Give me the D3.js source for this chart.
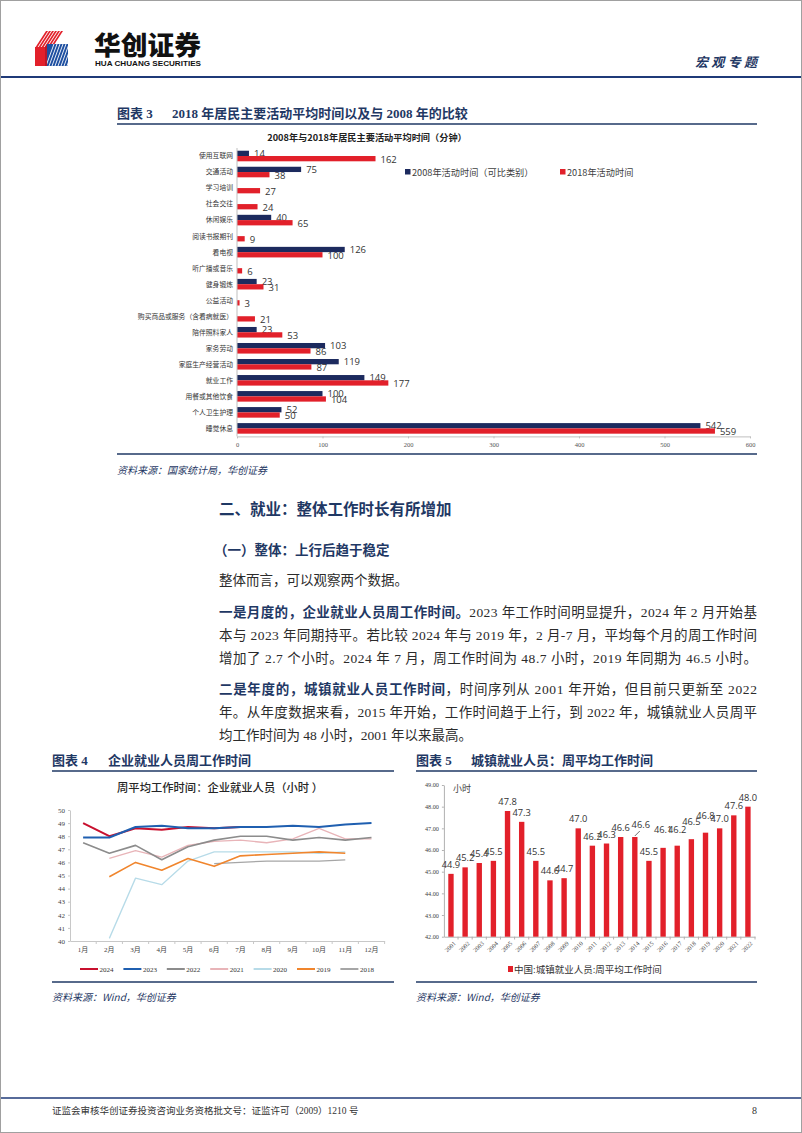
<!DOCTYPE html>
<html><head><meta charset="utf-8">
<script src="https://cdn.jsdelivr.net/npm/d3@7/dist/d3.min.js"></script>
<style>body{margin:0;background:#fff}svg{display:block}</style>
</head><body><svg id="page" width="802" height="1133"></svg>
<script>
// ---------- DATA ----------
const activities = ["使用互联网","交通活动","学习培训","社会交往","休闲娱乐","阅读书报期刊","看电视","听广播或音乐","健身锻炼","公益活动","购买商品或服务（含看病就医）","陪伴照料家人","家务劳动","家庭生产经营活动","就业工作","用餐或其他饮食","个人卫生护理","睡觉休息"];
const time2008 = [14,75,null,null,40,null,126,null,23,null,null,23,103,119,149,100,52,542];
const time2018 = [162,38,27,24,65,9,100,6,31,3,21,53,86,87,177,104,50,559];
const activityTicks = [0,100,200,300,400,500,600];
const activitySeries = ["2008年活动时间（可比类别）","2018年活动时间"];

const months = ["1月","2月","3月","4月","5月","6月","7月","8月","9月","10月","11月","12月"];
const hours2024 = [49.0,48.0,48.6,48.5,48.7,48.6,48.7,null,null,null,null,null];
const hours2023 = [47.9,47.9,48.7,48.8,48.6,48.6,48.7,48.7,48.8,48.7,48.9,49.0];
const hours2022 = [47.5,46.7,47.3,46.2,47.2,47.7,48.0,48.0,47.7,47.9,47.7,47.9];
const hours2021 = [null,46.3,46.9,46.4,47.3,47.6,47.7,47.5,47.8,48.6,47.8,47.8];
const hours2020 = [null,40.2,44.8,44.3,46.1,46.8,46.8,46.8,46.8,46.7,46.8,null];
const hours2019 = [null,44.9,46.0,45.4,46.3,45.7,46.5,46.6,46.7,46.8,46.7,null];
const hours2018 = [null,null,null,null,null,45.9,46.0,46.1,46.1,46.1,46.2,null];
const lineYears = ["2024","2023","2022","2021","2020","2019","2018"];
const monthlyTicks = [40,41,42,43,44,45,46,47,48,49,50];

const years = ["2001","2002","2003","2004","2005","2006","2007","2008","2009","2010","2011","2012","2013","2014","2015","2016","2017","2018","2019","2020","2021","2022"];
const urbanHours = [44.9,45.2,45.4,45.5,47.8,47.3,45.5,44.6,44.7,47.0,46.2,46.3,46.6,46.6,45.5,46.1,46.2,46.5,46.8,47.0,47.6,48.0];
const urbanTicks = [42,43,44,45,46,47,48,49];
const urbanSeriesName = "中国:城镇就业人员:周平均工作时间";

// label lifts (annotation placement styling, not data)
const urbanLabelLift = [0,0,0,0,0,0,0,0,0,0,0,0,0,3,0,9,7,8,8,0,0,0];

// ---------- PAGE ----------
const svg = d3.select("#page");
const NAVY = "#1f3864", BARNAVY = "#1c2a5e", BARRED = "#e2202a";
const CJK = "'Noto Sans CJK SC','Noto Sans',sans-serif";
const SERIF = "'Liberation Serif','Noto Sans CJK SC',serif";

svg.append("rect").attr("x",0.5).attr("y",0.5).attr("width",801).attr("height",1132)
  .attr("fill","#fff").attr("stroke","#a0a0a0").attr("stroke-width",1);

function txt(x,y,s,o={}){
  const t = svg.append("text").attr("x",x).attr("y",y).text(s)
    .attr("font-family",o.ff||CJK).attr("font-size",o.fs||12)
    .attr("fill",o.fill||"#222").attr("font-weight",o.fw||"normal");
  if(o.anchor) t.attr("text-anchor",o.anchor);
  if(o.italic) t.attr("font-style","italic");
  if(o.len) t.attr("textLength",o.len).attr("lengthAdjust",o.adj||"spacing");
  return t;
}
function hline(x1,x2,y,w,c){svg.append("line").attr("x1",x1).attr("x2",x2).attr("y1",y).attr("y2",y).attr("stroke",c||NAVY).attr("stroke-width",w||1.2);}

// Header logo
const logo = svg.append("g");
for(let i=0;i<6;i++){
  logo.append("polygon").attr("points",`${35+i*3},48 ${46+i*3},31 ${48+i*3},31 ${37+i*3},48`).attr("fill","#e2202a");
}
logo.append("polygon").attr("points","35,47 45,47 45,66 35,66").attr("fill","#e2202a");
logo.append("polygon").attr("points","47,44 68,44 68,66 47,66").attr("fill","#1e4fa0");
for(let i=0;i<8;i++){
  logo.append("line").attr("x1",46+i*3).attr("y1",66).attr("x2",54+i*3).attr("y2",44).attr("stroke","#fff").attr("stroke-width",0.9);
}
logo.append("polygon").attr("points","45,47 47,44 47,66 45,66").attr("fill","#b8182a");
txt(94,55,"华创证券",{fs:26,fw:900,fill:"#111",len:107,adj:"spacingAndGlyphs"});
txt(95,66,"HUA CHUANG SECURITIES",{fs:7.5,fw:"bold",fill:"#111",ff:"'Liberation Sans',sans-serif",len:106,adj:"spacingAndGlyphs"});
txt(695,67,"宏观专题",{fs:13,fw:"bold",fill:NAVY,len:62,italic:true});
hline(1,801,77,2.2,"#1f3a78");

// ---------- FIGURE 3 ----------
txt(117,118,"图表 3",{fs:13,fw:"bold",fill:NAVY,ff:SERIF});
txt(172,118,"2018 年居民主要活动平均时间以及与 2008 年的比较",{fs:13,fw:"bold",fill:NAVY,ff:SERIF});
hline(117,757,124,1.3);
txt(367,141,"2008年与2018年居民主要活动平均时间（分钟）",{fs:9.2,fw:"bold",fill:"#222",anchor:"middle"});

const x3 = d3.scaleLinear().domain([0,600]).range([237,750]);
const y3 = d3.scaleBand().domain(activities).range([148,436.4]).paddingInner(0.34).paddingOuter(0.17);
const g3 = svg.append("g");
const bw = y3.bandwidth();
activities.forEach((a,i)=>{
  const y0 = y3(a);
  if(time2008[i]!=null){
    g3.append("rect").attr("x",x3(0)).attr("y",y0).attr("width",x3(time2008[i])-x3(0)).attr("height",bw/2).attr("fill",BARNAVY);
    g3.append("text").attr("x",x3(time2008[i])+5).attr("y",y0+bw/2+0.5).text(time2008[i])
      .attr("font-family","'Open Sans',sans-serif").attr("font-size",9.5).attr("fill","#333");
  }
  g3.append("rect").attr("x",x3(0)).attr("y",y0+bw/2).attr("width",x3(time2018[i])-x3(0)).attr("height",bw/2).attr("fill",BARRED);
  g3.append("text").attr("x",x3(time2018[i])+5).attr("y",y0+bw/2+6.5).text(time2018[i])
      .attr("font-family","'Open Sans',sans-serif").attr("font-size",9.5).attr("fill","#333");
  g3.append("text").attr("x",233).attr("y",y0+bw/2).attr("dy","0.35em").attr("text-anchor","end")
    .text(a).attr("font-family",CJK).attr("font-size",6.8).attr("fill","#333");
});
g3.append("line").attr("x1",237).attr("x2",237).attr("y1",148).attr("y2",436.4).attr("stroke","#bfbfbf");
const ax3 = svg.append("g").attr("transform","translate(0,436.4)").call(d3.axisBottom(x3).tickValues(activityTicks).tickSize(2).tickSizeOuter(0));
ax3.select(".domain").attr("stroke","#bfbfbf");
ax3.selectAll(".tick line").attr("stroke","#bfbfbf");
ax3.selectAll("text").attr("font-family",SERIF).attr("font-size",6.5).attr("fill","#555").attr("dy","0.9em");
// legend
[[BARNAVY,activitySeries[0],405],[BARRED,activitySeries[1],560]].forEach(([c,l,x])=>{
  svg.append("rect").attr("x",x).attr("y",169).attr("width",5.5).attr("height",5.5).attr("fill",c);
  txt(x+7,175.5,l,{fs:9.2,fill:"#404040"});
});
hline(117,757,454,1.3);
txt(117,474,"资料来源：国家统计局，华创证券",{fs:10,fill:NAVY,italic:true});

// ---------- TEXT ----------
txt(219,515,"二、就业：整体工作时长有所增加",{fs:15.5,fw:"bold",fill:NAVY});
txt(214,555,"（一）整体：上行后趋于稳定",{fs:13.5,fw:"bold",fill:NAVY});
txt(219,585,"整体而言，可以观察两个数据。",{fs:13.5,fill:"#2b2b2b",ff:SERIF});
function para(y,bold,rest,full){
  const t = svg.append("text").attr("x",219).attr("y",y).attr("font-size",13.5).attr("font-family",SERIF).attr("fill","#2b2b2b");
  if(bold) t.append("tspan").attr("font-weight","bold").attr("fill",NAVY).attr("font-family",CJK).text(bold);
  t.append("tspan").text(rest);
  if(full) t.attr("textLength",538).attr("lengthAdjust","spacing");
}
para(617,"一是月度的，企业就业人员周工作时间。","2023 年工作时间明显提升，2024 年 2 月开始基",true);
para(640,null,"本与 2023 年同期持平。若比较 2024 年与 2019 年，2 月-7 月，平均每个月的周工作时间",true);
para(663,null,"增加了 2.7 个小时。2024 年 7 月，周工作时间为 48.7 小时，2019 年同期为 46.5 小时。",true);
para(694,"二是年度的，城镇就业人员工作时间","，时间序列从 2001 年开始，但目前只更新至 2022",true);
para(717,null,"年。从年度数据来看，2015 年开始，工作时间趋于上行，到 2022 年，城镇就业人员周平",true);
para(740,null,"均工作时间为 48 小时，2001 年以来最高。",false);

// ---------- FIGURE 4 ----------
txt(52,765,"图表 4",{fs:13,fw:"bold",fill:NAVY,ff:SERIF});
txt(108,765,"企业就业人员周工作时间",{fs:13,fw:"bold",fill:NAVY});
hline(52,394,771,1.3);
txt(220,792,"周平均工作时间：企业就业人员（小时 ）",{fs:11.3,fw:500,fill:"#262626",anchor:"middle"});
const x4 = d3.scaleBand().domain(months).range([70,384.6]);
const y4 = d3.scaleLinear().domain([40,50]).range([941,810]);
const ax4y = svg.append("g").attr("transform","translate(70,0)").call(d3.axisLeft(y4).tickValues(monthlyTicks).tickSize(2).tickSizeOuter(0));
ax4y.select(".domain").attr("stroke","#c8c8c8");
ax4y.selectAll(".tick line").attr("stroke","#c8c8c8");
ax4y.selectAll("text").attr("font-family",SERIF).attr("font-size",7).attr("fill","#444");
const ax4x = svg.append("g").attr("transform","translate(0,941)").call(d3.axisBottom(x4).tickSize(0).tickSizeOuter(0));
ax4x.select(".domain").attr("stroke","#c8c8c8");
ax4x.selectAll("text").attr("font-family",SERIF).attr("font-size",7).attr("fill","#444").attr("dy","1.1em");
months.forEach(m=>{svg.append("line").attr("x1",x4(m)+x4.bandwidth()).attr("x2",x4(m)+x4.bandwidth()).attr("y1",941).attr("y2",944).attr("stroke","#c8c8c8");});
const lineSeries = [
  [hours2018,"#a6a6a6",1.3],[hours2020,"#b7dbe8",1.3],[hours2021,"#e8b4b8",1.3],[hours2019,"#f0852d",1.6],
  [hours2022,"#8c8c8c",1.6],[hours2024,"#c8102e",2],[hours2023,"#1f5fb0",2]
];
const line4 = d3.line().defined(d=>d.v!=null).x(d=>x4(d.m)+x4.bandwidth()/2).y(d=>y4(d.v));
lineSeries.forEach(([arr,c,w])=>{
  svg.append("path").datum(arr.map((v,i)=>({m:months[i],v}))).attr("d",line4)
    .attr("fill","none").attr("stroke",c).attr("stroke-width",w).attr("stroke-linejoin","round");
});
const legendColors = {"2024":"#c8102e","2023":"#1f5fb0","2022":"#8c8c8c","2021":"#e8b4b8","2020":"#b7dbe8","2019":"#f0852d","2018":"#a6a6a6"};
lineYears.forEach((yname,i)=>{
  const lx = 80 + i*43.4;
  svg.append("line").attr("x1",lx).attr("x2",lx+18).attr("y1",969).attr("y2",969).attr("stroke",legendColors[yname]).attr("stroke-width",2);
  txt(lx+19.5,971.5,yname,{fs:7,ff:SERIF,fill:"#333"});
});
hline(52,394,982,1.3);
txt(52,1001,"资料来源：Wind，华创证券",{fs:10,fill:NAVY,italic:true});

// ---------- FIGURE 5 ----------
txt(416,765,"图表 5",{fs:13,fw:"bold",fill:NAVY,ff:SERIF});
txt(471,765,"城镇就业人员：周平均工作时间",{fs:13,fw:"bold",fill:NAVY});
hline(416,757,771,1.3);
const x5 = d3.scaleBand().domain(years).range([443.9,755]).paddingInner(0.62).paddingOuter(0.31);
const y5 = d3.scaleLinear().domain([42,49]).range([936.7,785]);
const ax5y = svg.append("g").attr("transform","translate(443.9,0)").call(d3.axisLeft(y5).tickValues(urbanTicks).tickSize(2).tickSizeOuter(0).tickFormat(d3.format(".2f")));
ax5y.select(".domain").attr("stroke","#b0b0b0");
ax5y.selectAll(".tick line").attr("stroke","#b0b0b0");
ax5y.selectAll("text").attr("font-family",SERIF).attr("font-size",6.2).attr("fill","#444");
const ax5x = svg.append("g").attr("transform","translate(0,936.7)").call(d3.axisBottom(x5).tickSize(0).tickSizeOuter(0));
ax5x.select(".domain").attr("stroke","#b0b0b0");
ax5x.selectAll("text").attr("font-family",SERIF).attr("font-size",6.2).attr("fill","#444")
  .attr("text-anchor","end").attr("dy","0").attr("transform","translate(3,5) rotate(-45)");
const step5 = x5.step();
years.forEach((yr,i)=>{
  const cx = x5(yr)+x5.bandwidth()/2;
  svg.append("line").attr("x1",cx+step5/2).attr("x2",cx+step5/2).attr("y1",936.7).attr("y2",939.5).attr("stroke","#b0b0b0");
  svg.append("rect").attr("x",x5(yr)).attr("y",y5(urbanHours[i])).attr("width",x5.bandwidth()).attr("height",y5(42)-y5(urbanHours[i])).attr("fill","#e2202a");
  const dx = yr==="2014"?6:0;
  svg.append("text").attr("x",cx+dx).attr("y",y5(urbanHours[i])-6-urbanLabelLift[i]).attr("text-anchor","middle")
    .text(urbanHours[i].toFixed(1)).attr("font-family","'Open Sans',sans-serif").attr("font-size",9.3).attr("fill","#333");
  if(yr==="2014"){
    svg.append("line").attr("x1",cx).attr("y1",y5(urbanHours[i])-1).attr("x2",cx+5).attr("y2",y5(urbanHours[i])-6).attr("stroke","#333").attr("stroke-width",0.7);
  }
});
txt(453,792,"小时",{fs:9,fill:"#444"});
svg.append("rect").attr("x",508).attr("y",966).attr("width",5).attr("height",6).attr("fill","#e2202a");
txt(514,973,urbanSeriesName,{fs:9.5,fill:"#333",ff:SERIF});
hline(416,757,982,1.3);
txt(416,1001,"资料来源：Wind，华创证券",{fs:10,fill:NAVY,italic:true});

// ---------- FOOTER ----------
hline(1,801,1098,1.5,"#1f3a78");
txt(52,1114,"证监会审核华创证券投资咨询业务资格批文号：证监许可（2009）1210 号",{fs:9.5,fill:"#333",ff:SERIF});
txt(752,1114,"8",{fs:10,fill:"#333",ff:SERIF});
</script></body></html>
